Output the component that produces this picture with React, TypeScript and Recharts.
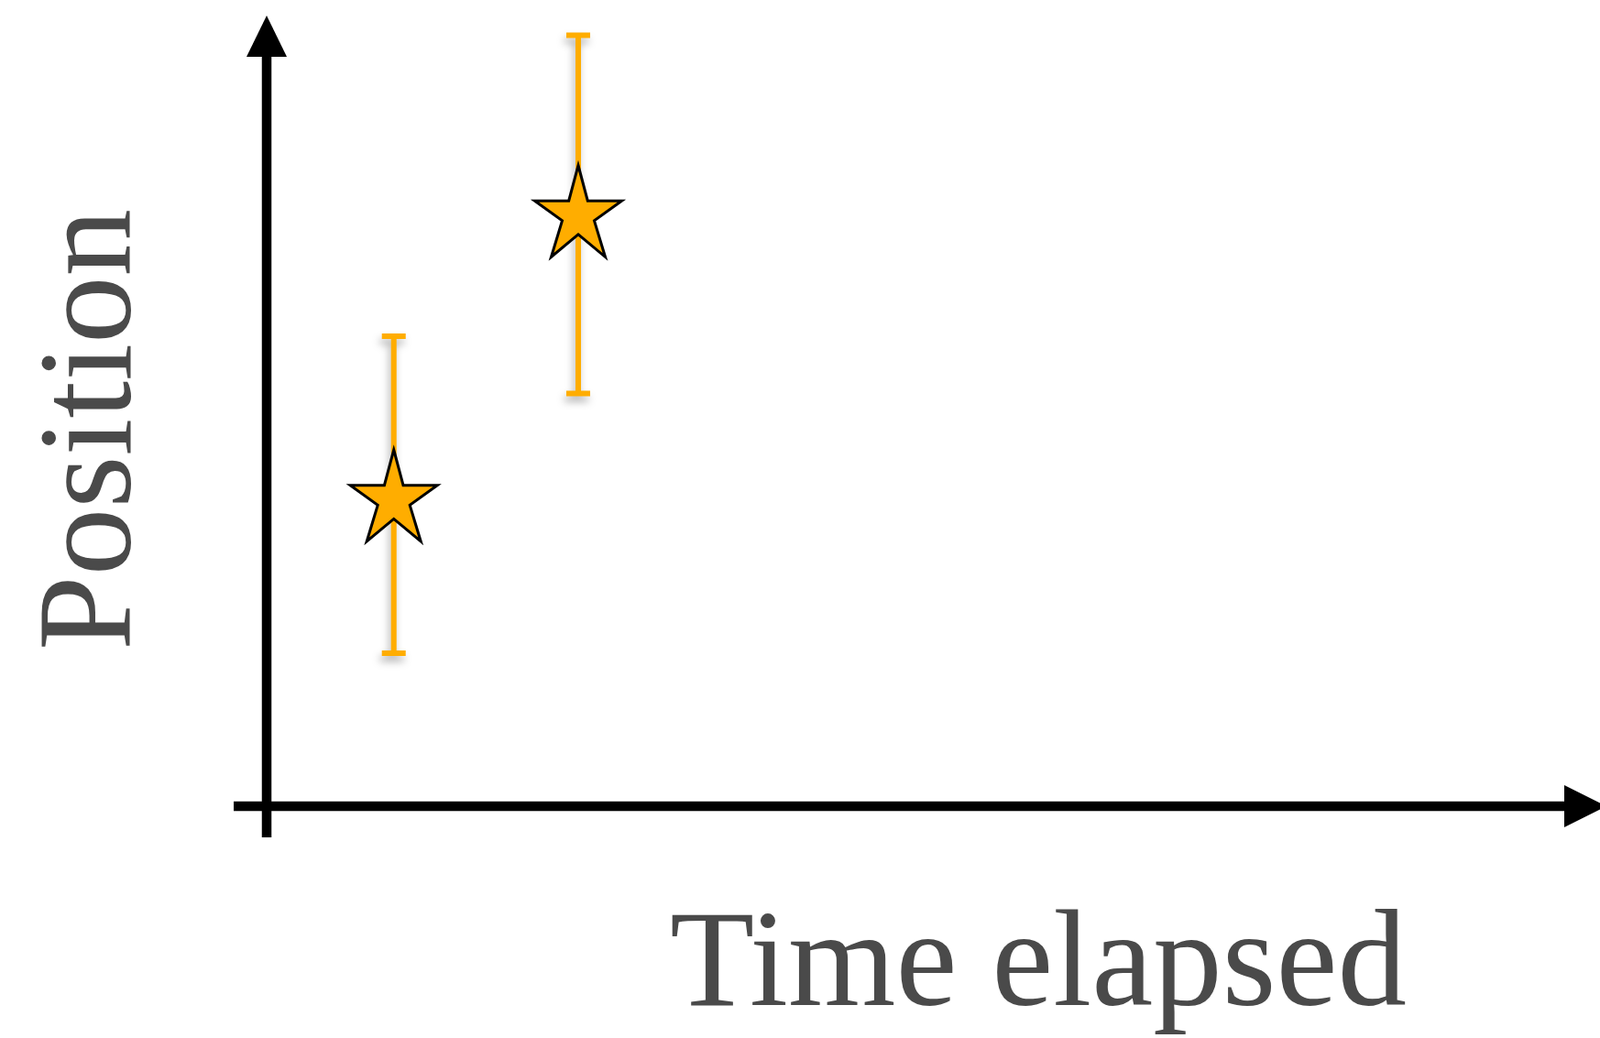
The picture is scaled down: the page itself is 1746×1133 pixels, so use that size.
import React from 'react';
import { ScatterChart, Scatter, XAxis, YAxis, ErrorBar, ReferenceLine } from 'recharts';

// measurements, in chart units
const times = [1.02, 2.5];
const positions = [3.39, 6.495];
const errLow = [1.72, 1.99];
const errHigh = [1.74, 1.92];

const xLabel = 'Time elapsed';
const yLabel = 'Position';

const W = 1746;
const H = 1133;
const MARGIN = { top: 17, right: 0, bottom: 219, left: 255 };
const PX_X = 136; // px per time unit
const PX_Y = 100; // px per position unit
const ORIGIN_X = 291;
const ORIGIN_Y = 880;

const X_DOMAIN = [(MARGIN.left - ORIGIN_X) / PX_X, (W - MARGIN.right - ORIGIN_X) / PX_X];
const Y_DOMAIN = [(ORIGIN_Y - (H - MARGIN.bottom)) / PX_Y, (ORIGIN_Y - MARGIN.top) / PX_Y];

const ORANGE = '#ffad00';
const GREY = '#4a4a4a';

const data = times.map((t, i) => ({ t, pos: positions[i], err: [errLow[i], errHigh[i]] }));

const Star = (props: any) => {
  const { cx, cy } = props;
  const pts = [
    [0, -50], [10.3, -11.3], [47.5, -11.3], [17.5, 10.4], [29.5, 50],
    [0, 25.4], [-29.5, 50], [-17.5, 10.4], [-47.5, -11.3], [-10.3, -11.3],
  ];
  return (
    <polygon
      points={pts.map(([dx, dy]) => `${cx + dx},${cy + dy}`).join(' ')}
      fill={ORANGE}
      stroke="#000"
      strokeWidth={3}
      strokeLinejoin="miter"
    />
  );
};

const px = (t: number) => ORIGIN_X + t * PX_X;
const py = (p: number) => ORIGIN_Y - p * PX_Y;

export default function App() {
  const yArrowBase = 62;
  const xArrowBase = 1707;
  return (
    <div style={{ position: 'absolute', left: 0, top: 0, width: W, height: H, background: '#fff' }}>
      <ScatterChart width={W} height={H} margin={MARGIN}>
        <XAxis type="number" dataKey="t" domain={X_DOMAIN} allowDataOverflow hide />
        <YAxis type="number" dataKey="pos" domain={Y_DOMAIN} allowDataOverflow hide />
        <ReferenceLine
          segment={[{ x: 0, y: Y_DOMAIN[0] }, { x: 0, y: (ORIGIN_Y - yArrowBase) / PX_Y }]}
          stroke="#000"
          strokeWidth={10.5}
          ifOverflow="visible"
        />
        <ReferenceLine
          segment={[{ x: X_DOMAIN[0], y: 0 }, { x: (xArrowBase - ORIGIN_X) / PX_X, y: 0 }]}
          stroke="#000"
          strokeWidth={10.5}
          ifOverflow="visible"
        />
        <polygon points={`${px(0)},17 ${px(0) - 22},${yArrowBase} ${px(0) + 22},${yArrowBase}`} fill="#000" />
        <polygon points={`${xArrowBase},${py(0) - 23} ${xArrowBase + 46},${py(0)} ${xArrowBase},${py(0) + 23}`} fill="#000" />
        <Scatter data={data} shape={<Star />} isAnimationActive={false}>
          <ErrorBar
            dataKey="err"
            direction="y"
            width={13}
            stroke={ORANGE}
            strokeWidth={6}
            style={{ filter: 'drop-shadow(-2px 6px 4px rgba(0,0,0,0.3))' }}
          />
        </Scatter>
        <text
          x={1133}
          y={1097}
          textAnchor="middle"
          fontFamily="'Liberation Serif', 'Times New Roman', serif"
          fontSize={151}
          fill={GREY}
        >
          {xLabel}
        </text>
        <text
          transform="translate(142,469) rotate(-90)"
          textAnchor="middle"
          fontFamily="'Liberation Serif', 'Times New Roman', serif"
          fontSize={147}
          fill={GREY}
        >
          {yLabel}
        </text>
      </ScatterChart>
    </div>
  );
}
